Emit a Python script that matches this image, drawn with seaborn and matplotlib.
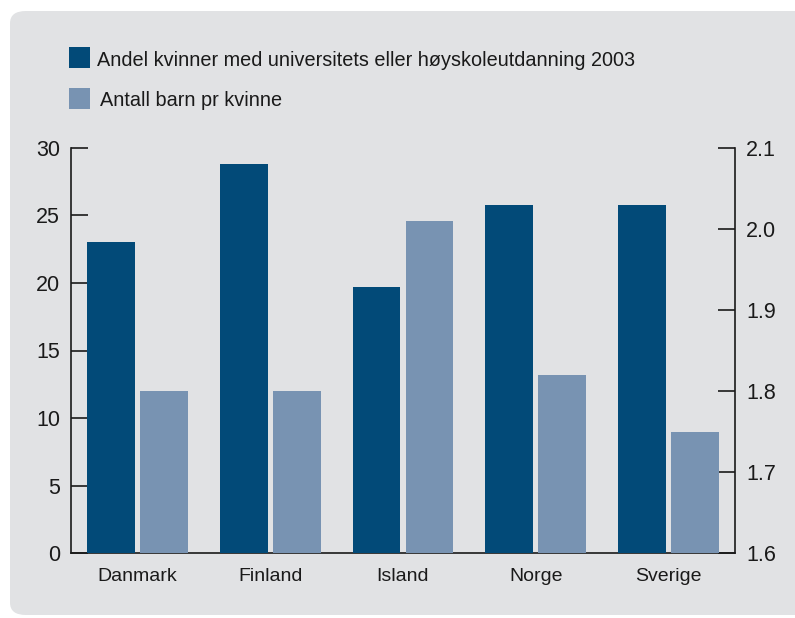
import numpy as np
import pandas as pd
import matplotlib
matplotlib.use("Agg")
import matplotlib.pyplot as plt
from matplotlib.patches import FancyBboxPatch, Rectangle
import seaborn as sns

countries = ["Danmark", "Finland", "Island", "Norge", "Sverige"]
edu_share = [23.0, 28.8, 19.7, 25.8, 25.8]      # left axis
children = [1.80, 1.80, 2.01, 1.82, 1.75]       # right axis

edu_label = "Andel kvinner med universitets eller høyskoleutdanning 2003"
kids_label = "Antall barn pr kvinne"
DARK = "#024a78"
LIGHT = "#7893b2"
PANEL = "#e1e2e4"
INK = "#1a1a1a"

sns.set_theme(style="white")
plt.rcParams["font.family"] = ["Liberation Sans", "DejaVu Sans"]

df_edu = pd.DataFrame({"land": countries, "verdi": edu_share, "serie": edu_label})
df_kids = pd.DataFrame({"land": countries, "verdi": children, "serie": kids_label})
hue_order = [edu_label, kids_label]
palette = {edu_label: DARK, kids_label: LIGHT}

W, H = 795, 618
fig = plt.figure(figsize=(W / 100, H / 100), dpi=100)
fig.patch.set_facecolor("white")

# rounded grey panel behind everything
fig.patches.append(FancyBboxPatch((10 / W, 3 / H), 820 / W, 604 / H,
                                  boxstyle="round,pad=0,rounding_size=0.02",
                                  transform=fig.transFigure, facecolor=PANEL,
                                  edgecolor="none", zorder=-5))

ax = fig.add_axes([71 / W, (H - 553) / H, (735 - 71) / W, (553 - 148) / H])
ax.set_facecolor("none")
ax2 = ax.twinx()

sns.barplot(data=df_edu, x="land", y="verdi", hue="serie", hue_order=hue_order,
            palette=palette, order=countries, width=0.8, gap=0.1, dodge=True,
            saturation=1, legend=False, linewidth=0, ax=ax, zorder=3)
sns.barplot(data=df_kids, x="land", y="verdi", hue="serie", hue_order=hue_order,
            palette=palette, order=countries, width=0.8, gap=0.1, dodge=True,
            saturation=1, legend=False, linewidth=0, ax=ax2, zorder=3)

ax.set_xlim(-0.5, 4.5)
ax.set_ylim(0, 30)
ax.set_yticks(range(0, 31, 5))
ax2.set_ylim(1.6, 2.1)
ax2.set_yticks([1.6, 1.7, 1.8, 1.9, 2.0, 2.1])
ax2.set_yticklabels(["1.6", "1.7", "1.8", "1.9", "2.0", "2.1"])

for a in (ax, ax2):
    a.set_xlabel("")
    a.set_ylabel("")
    for s in a.spines.values():
        s.set_visible(False)

ax.spines["left"].set_visible(True)
ax.spines["bottom"].set_visible(True)
ax2.spines["right"].set_visible(True)
for s in (ax.spines["left"], ax.spines["bottom"], ax2.spines["right"]):
    s.set_color(INK)
    s.set_linewidth(1.2)
ax.spines["bottom"].set_zorder(1)

ax.tick_params(axis="y", direction="in", length=12, width=1.2, color=INK,
               pad=8, labelsize=15.5, labelcolor=INK)
ax2.tick_params(axis="y", direction="in", length=12, width=1.2, color=INK,
                pad=8, labelsize=15.5, labelcolor=INK)
ax.tick_params(axis="x", which="major", length=0, pad=11, labelsize=14,
               labelcolor=INK)
ax.set_xticks(np.arange(0.5, 4, 1), minor=True)
ax.tick_params(axis="x", which="minor", direction="in", length=7.5, width=1.2,
               color=INK)

# legend drawn as squares + text at the top of the panel
legend_rows = [(edu_label, DARK, 47, 97), (kids_label, LIGHT, 88, 100)]
for text, color, top, tx in legend_rows:
    fig.patches.append(Rectangle((69 / W, (H - top - 21) / H), 21 / W, 21 / H,
                                 transform=fig.transFigure, facecolor=color,
                                 edgecolor="none"))
    fig.text(tx / W, (H - top - 13) / H, text, fontsize=14.3, color=INK,
             va="center", ha="left")

fig.savefig("out.png", dpi=100)
